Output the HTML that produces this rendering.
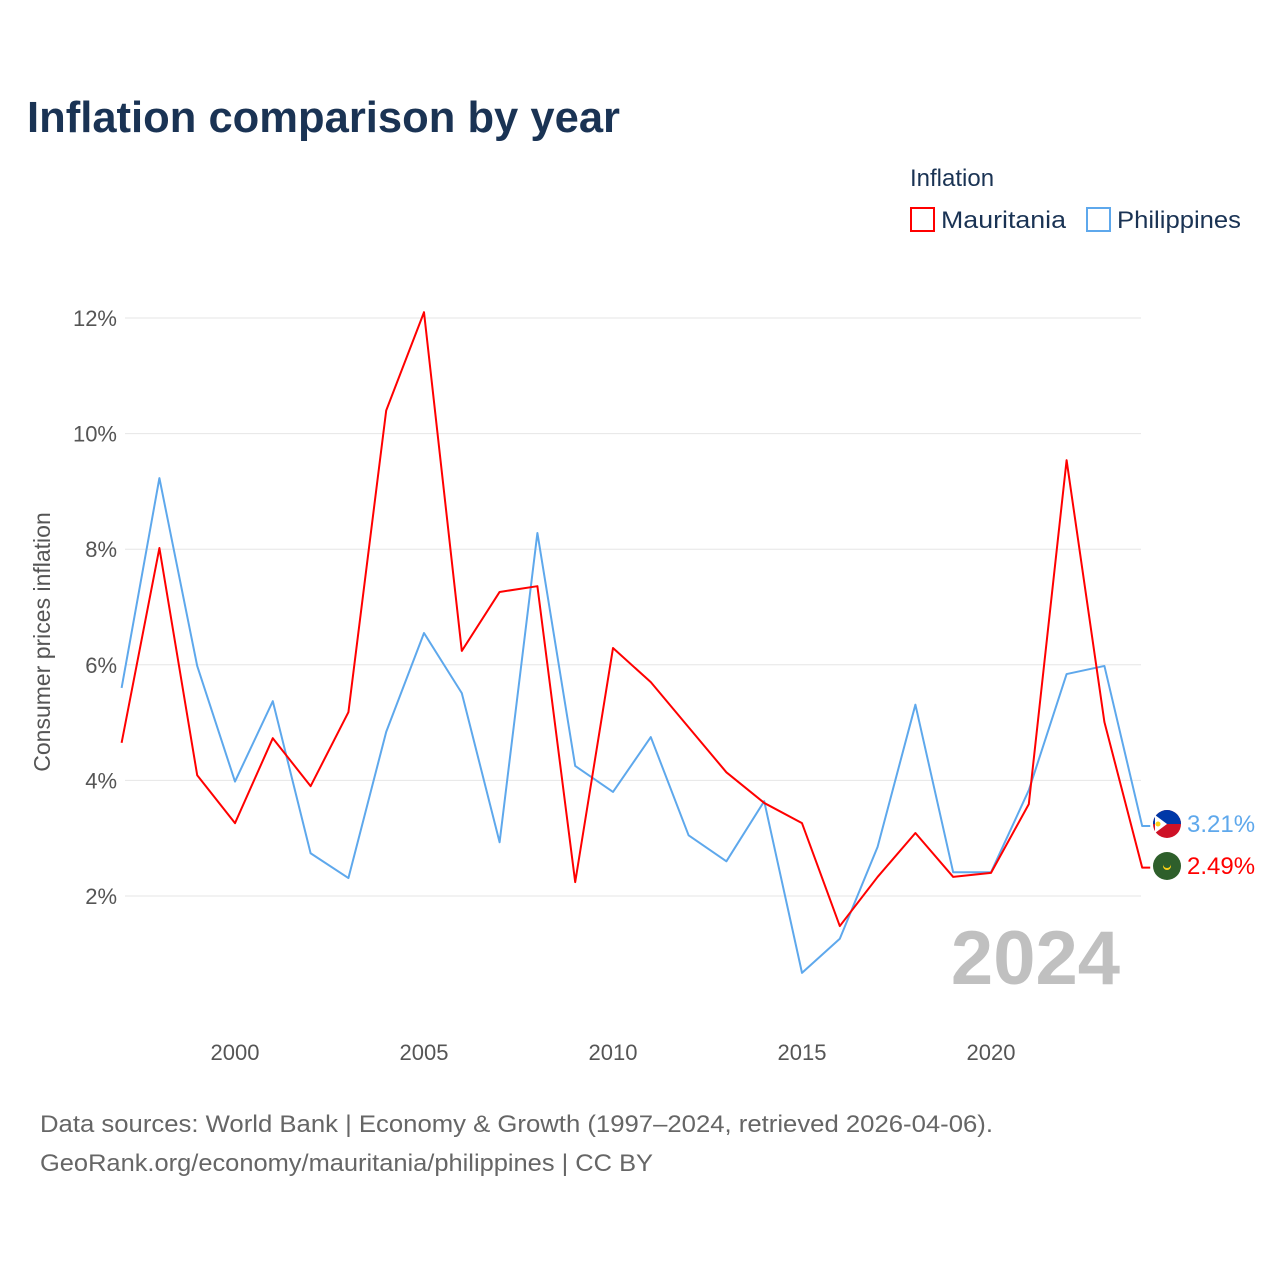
<!DOCTYPE html>
<html><head><meta charset="utf-8">
<style>
body{margin:0;background:#fff;font-family:"Liberation Sans",sans-serif;}
svg text{font-family:"Liberation Sans",sans-serif;}
</style></head>
<body>
<svg id="chart" width="1280" height="1280" viewBox="0 0 1280 1280" xmlns="http://www.w3.org/2000/svg">
<rect width="1280" height="1280" fill="#fff"/>
<text x="27" y="132" font-size="44" font-weight="bold" fill="#1a3354" textLength="593" lengthAdjust="spacingAndGlyphs">Inflation comparison by year</text>
<text x="910" y="186" font-size="24" fill="#1a3354">Inflation</text>
<g>
<rect x="911" y="208" width="23" height="23" fill="none" stroke="#ff0000" stroke-width="2"/>
<text x="941" y="228" font-size="24" fill="#1a3354" textLength="125" lengthAdjust="spacingAndGlyphs">Mauritania</text></g>
<g>
<rect x="1087" y="208" width="23" height="23" fill="none" stroke="#5ea8ec" stroke-width="2"/>
<text x="1117" y="228" font-size="24" fill="#1a3354" textLength="124" lengthAdjust="spacingAndGlyphs">Philippines</text></g>
<text transform="translate(50,642) rotate(-90)" text-anchor="middle" font-size="23" fill="#555">Consumer prices inflation</text>
<g id="grid"></g><g id="xticks"></g><g id="series"></g>
<text x="1120" y="984" text-anchor="end" font-size="76" font-weight="bold" fill="#c0c0c0">2024</text>
<g>
<circle cx="1167" cy="824" r="14" fill="#ce1126"/><path d="M1153,824 A14,14 0 0 1 1181,824 Z" fill="#0038a8"/><path d="M1155,815 L1167,824 L1155,833 Z" fill="#fff"/><circle cx="1158" cy="824" r="2.5" fill="#fcd116"/></g>
<g>
<circle cx="1167" cy="866" r="14" fill="#2e5f2b"/><circle cx="1167" cy="866" r="4" fill="#fcd116"/><circle cx="1167" cy="864" r="4" fill="#2e5f2b"/></g>
<text id="lblP" x="1187" y="832" font-size="24" fill="#5ea8ec"></text>
<text id="lblM" x="1187" y="874" font-size="24" fill="#ff0000"></text>
<text x="40" y="1132" font-size="24" fill="#666" textLength="953" lengthAdjust="spacingAndGlyphs">Data sources: World Bank | Economy &amp; Growth (1997–2024, retrieved 2026-04-06).</text>
<text x="40" y="1171" font-size="24" fill="#666" textLength="613" lengthAdjust="spacingAndGlyphs">GeoRank.org/economy/mauritania/philippines | CC BY</text>
</svg>
<script>
const years=[1997,1998,1999,2000,2001,2002,2003,2004,2005,2006,2007,2008,2009,2010,2011,2012,2013,2014,2015,2016,2017,2018,2019,2020,2021,2022,2023,2024];
const mauritania=[4.65,8.02,4.09,3.26,4.73,3.90,5.18,10.4,12.1,6.24,7.26,7.36,2.24,6.29,5.70,4.92,4.14,3.61,3.26,1.48,2.33,3.09,2.33,2.40,3.59,9.54,5.01,2.49];
const philippines=[5.6,9.23,5.98,3.98,5.37,2.74,2.31,4.84,6.55,5.51,2.93,8.28,4.25,3.80,4.75,3.05,2.60,3.64,0.67,1.26,2.85,5.31,2.41,2.41,3.83,5.84,5.98,3.21];
const yTicks=[2,4,6,8,10,12];
const xTicks=[2000,2005,2010,2015,2020];
const NS="http://www.w3.org/2000/svg";
const x=v=>121.6+(v-1997)*37.8;
const y=v=>1011.6-v*57.8;
function mk(t,a,p){const e=document.createElementNS(NS,t);for(const k in a)e.setAttribute(k,a[k]);p.appendChild(e);return e;}
const grid=document.getElementById('grid');
yTicks.forEach(t=>{
 const l=mk('line',{x1:125,x2:1141,y1:y(t),y2:y(t),stroke:'#e6e6e6','stroke-width':1},grid);
 
 
 const tx=mk('text',{x:117,y:y(t)+8,'text-anchor':'end','font-size':22,fill:'#555'},grid);
 tx.textContent=t+'%';
 
 
});
const xg=document.getElementById('xticks');
xTicks.forEach(t=>{
 const tx=mk('text',{x:x(t),y:1060,'text-anchor':'middle','font-size':22,fill:'#555'},xg);
 tx.textContent=t;
 
 
});
const sg=document.getElementById('series');
function line(vals,color,name){
 let pts=vals.map((v,i)=>x(years[i])+','+y(v));
 pts.push((x(years[years.length-1])+8)+','+y(vals[vals.length-1]));
 const p=mk('polyline',{points:pts.join(' '),fill:'none',stroke:color,'stroke-width':2,'stroke-linejoin':'round'},sg);
 
 
}
line(philippines,'#5ea8ec','philippines-line');
line(mauritania,'#ff0000','mauritania-line');
document.getElementById('lblP').textContent=philippines[philippines.length-1].toFixed(2)+'%';
document.getElementById('lblM').textContent=mauritania[mauritania.length-1].toFixed(2)+'%';
</script>
</body></html>
